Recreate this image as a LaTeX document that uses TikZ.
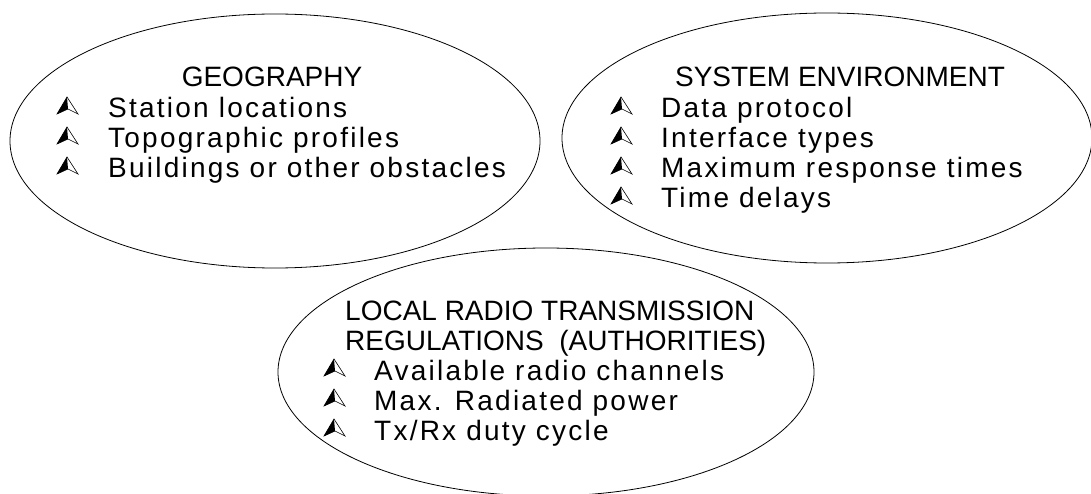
\documentclass[tikz,border=0pt]{standalone}
\usepackage{fontspec}
\setmainfont{Liberation Sans}
\newfontfamily\itemfont[LetterSpace=8]{Liberation Sans}
\usetikzlibrary{shapes.geometric}
\tikzset{
  oval/.style={draw, line width=0.8pt, ellipse, inner sep=0pt},
  txt/.style={anchor=base west, inner sep=0pt, font=\itemfont\fontsize{28}{30}\selectfont},
  headl/.style={anchor=base west, inner sep=0pt, font=\fontsize{28}{30}\selectfont},
  head/.style={anchor=base, inner sep=0pt, font=\fontsize{28}{30}\selectfont},
  arrowbullet/.pic={
    \fill (0,-21) -- (-10,-4) -- (1,-9) -- cycle;
    \draw[line width=0.6pt, line join=miter] (0,-21) -- (-10,-4) -- (1,-9) -- (11,-4) -- cycle;
  }
}
\begin{document}
\begin{tikzpicture}[x=1pt,y=-1pt]
\useasboundingbox (0,0) rectangle (1091,494);
\clip (0,0) rectangle (1091,494);
\fill[white] (0,0) rectangle (1091,494);
% ellipses
\node[oval, minimum width=530pt, minimum height=254pt] (geo) at (275,141) {};
\node[oval, minimum width=530pt, minimum height=250pt] (sys) at (827,138) {};
\node[oval, minimum width=536pt, minimum height=248pt] (loc) at (546,372) {};
% geography
\node[head] (geoh) at (272,87) {GEOGRAPHY};
\pic at (67,118) {arrowbullet};
\node[txt] (g1) at (108,118) {Station locations};
\pic at (67,148) {arrowbullet};
\node[txt] (g2) at (108,148) {Topographic profiles};
\pic at (67,178) {arrowbullet};
\node[txt] (g3) at (108,178) {Buildings or other obstacles};
% system
\node[head] (sysh) at (840,87) {SYSTEM ENVIRONMENT};
\pic at (621,118) {arrowbullet};
\node[txt] (s1) at (661,118) {Data protocol};
\pic at (621,148) {arrowbullet};
\node[txt] (s2) at (661,148) {Interface types};
\pic at (621,178) {arrowbullet};
\node[txt] (s3) at (661,178) {Maximum response times};
\pic at (621,208) {arrowbullet};
\node[txt] (s4) at (661,208) {Time delays};
% local
\node[headl] (lh1) at (345,320) {LOCAL RADIO TRANSMISSION};
\node[headl] (lh2) at (345,350) {REGULATIONS\ \ (AUTHORITIES)};
\pic at (334,380) {arrowbullet};
\node[txt] (l1) at (374,380) {Available radio channels};
\pic at (334,410) {arrowbullet};
\node[txt] (l2) at (374,410) {Max. Radiated power};
\pic at (334,440) {arrowbullet};
\node[txt] (l3) at (374,440) {Tx/Rx duty cycle};
\end{tikzpicture}
\end{document}
